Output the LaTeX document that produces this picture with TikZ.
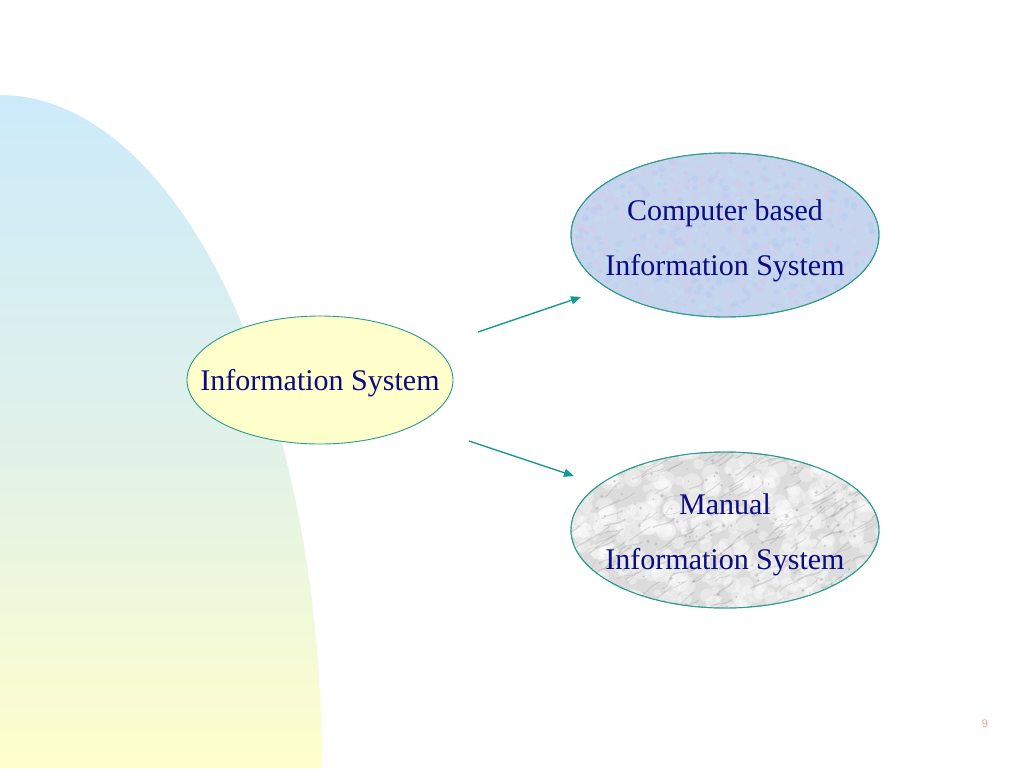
\documentclass[tikz,border=0pt]{standalone}
\usepackage{fontspec}
\setmainfont{Liberation Serif}
\newfontfamily\pnfont{Liberation Sans}
\usetikzlibrary{shapes.geometric,arrows.meta}
\definecolor{txtnavy}{HTML}{0C0C82}
\definecolor{edgeteal}{HTML}{2A9C8A}
\definecolor{arrteal}{HTML}{149A94}
\definecolor{bgtop}{HTML}{CCEBFA}
\definecolor{bgmid}{HTML}{E0F1EA}
\definecolor{bgbot}{HTML}{FFFFCC}
\definecolor{isfill}{HTML}{FFFFCC}
\definecolor{cbfill}{HTML}{C6D4EE}
\definecolor{cbpink}{HTML}{DCC8E6}
\definecolor{cbblue}{HTML}{B2CAEE}
\definecolor{cbcyan}{HTML}{C4E2F0}
\definecolor{mfill}{HTML}{DCDCDC}
\definecolor{mvein}{HTML}{808080}
\definecolor{pagenum}{HTML}{F0A080}
\tikzset{
  bubble/.style={ellipse, draw=edgeteal, line width=0.9pt, inner sep=0pt},
  bubbletext/.style={text=txtnavy, align=center, font=\fontsize{30}{55}\selectfont},
  link/.style={draw=arrteal, line width=1.4pt, -{Triangle[length=10pt,width=8pt]}},
}
\begin{document}
\begin{tikzpicture}[x=1pt,y=-1pt]
\useasboundingbox (0,0) rectangle (1024,768);
\fill[white] (0,0) rectangle (1024,768);
% background shape
\shade[top color=bgtop, bottom color=bgbot, middle color=bgmid]
  (0,768) -- plot[smooth, domain=90:0, samples=40] ({322*cos(\x)},{768-673*sin(\x)}) -- cycle;

% central ellipse
\node[bubble, fill=isfill, minimum width=266pt, minimum height=128pt] (is) at (320,380) {};
\node[bubbletext] (ist) at ([yshift=-3pt]is.center) {Information System};

% computer based ellipse
\node[bubble, fill=cbfill, minimum width=308pt, minimum height=164pt] (cb) at (725,235) {};
\begin{scope}
  \clip (725,235) ellipse [x radius=154, y radius=82];
  \pgfmathsetseed{11}
  \foreach \i in {1,...,1100}{
    \pgfmathsetmacro\px{725+(rnd-0.5)*310}
    \pgfmathsetmacro\py{235+(rnd-0.5)*166}
    \pgfmathsetmacro\pr{1+rnd*3}
    \pgfmathsetmacro\pc{rnd}
    \ifdim\pc pt<0.33pt
      \fill[cbpink, opacity=0.35] (\px,\py) circle[radius=\pr];
    \else\ifdim\pc pt<0.66pt
      \fill[cbblue, opacity=0.35] (\px,\py) circle[radius=\pr];
    \else
      \fill[cbcyan, opacity=0.35] (\px,\py) circle[radius=\pr];
    \fi\fi
  }
\end{scope}
\draw[draw=edgeteal, line width=0.9pt] (725,235) ellipse [x radius=154, y radius=82];
\node[bubbletext] (cbt) at ([yshift=-6pt]cb.center) {Computer based\\Information System};

% manual ellipse
\node[bubble, fill=mfill, minimum width=308pt, minimum height=156pt] (man) at (725,530) {};
\begin{scope}
  \clip (725,530) ellipse [x radius=154, y radius=78];
  \pgfmathsetseed{5}
  \foreach \i in {1,...,420}{
    \pgfmathsetmacro\px{725+(rnd-0.5)*320}
    \pgfmathsetmacro\py{530+(rnd-0.5)*165}
    \fill[white, opacity=0.35] (\px,\py) circle[radius={3+rnd*7}];
  }
  \foreach \i in {1,...,200}{
    \pgfmathsetmacro\px{725+(rnd-0.5)*330}
    \pgfmathsetmacro\py{530+(rnd-0.5)*170}
    \draw[mvein, opacity=0.22, line width={0.4+rnd*1.2}] (\px,\py)
      .. controls +({4+rnd*8},{-2-rnd*6}) and +({-4-rnd*6},{3+rnd*4}) .. +({12+rnd*14},{-6-rnd*10});
  }
  \foreach \i in {1,...,160}{
    \pgfmathsetmacro\px{725+(rnd-0.5)*320}
    \pgfmathsetmacro\py{530+(rnd-0.5)*165}
    \fill[mvein, opacity=0.3] (\px,\py) circle[radius={0.6+rnd*1.4}];
  }
\end{scope}
\draw[draw=edgeteal, line width=0.9pt] (725,530) ellipse [x radius=154, y radius=78];
\node[bubbletext] (mant) at ([yshift=-5pt]man.center) {Manual\\Information System};

% arrows
\coordinate (a1s) at (478,332);
\coordinate (a1e) at (581,297);
\coordinate (a2s) at (469,441);
\coordinate (a2e) at (574,476);
\draw[link] (a1s) -- (a1e);
\draw[link] (a2s) -- (a2e);

% page number
\node[text=pagenum, font=\pnfont\fontsize{11}{13}\selectfont] (pg) at (985,724) {9};
\end{tikzpicture}
\end{document}
